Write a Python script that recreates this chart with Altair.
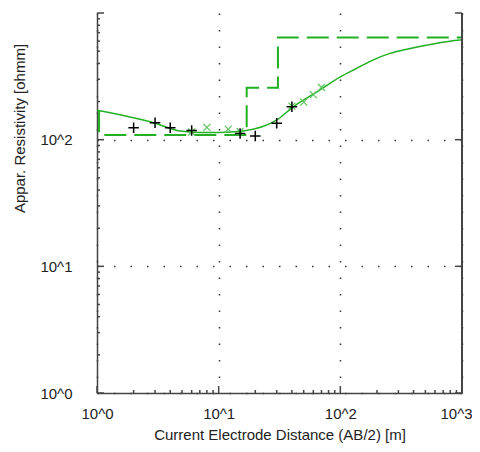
import altair as alt
import pandas as pd

# Model response curve (solid green)
curve_ab2 = [1.0, 3.0, 4.8, 7.0, 10.2, 15.8, 30.1, 40.8, 64.2, 99.3, 136, 185, 256, 352, 577, 961, 1000]
curve_rho = [171, 135, 117, 114, 114, 117, 143, 181, 238, 312, 365, 425, 480, 518, 570, 611, 613]

# Layered model (dashed green step line)
model_depth = [1.04, 1.04, 17.0, 17.0, 30.7, 30.7, 1000]
model_rho = [171, 109, 109, 257, 257, 642, 642]

# Observed data (black +)
obs_ab2 = [2, 3, 4, 6, 15, 20, 30, 40]
obs_rho = [124, 136, 124, 118, 112, 107, 134.5, 182]

# Calculated points (green x)
calc_ab2 = [6, 8, 12, 15, 40, 50, 60, 70]
calc_rho = [115, 125, 121, 116, 184, 198, 227, 258]

# Tick values
major_ticks = [1, 10, 100, 1000]
minor_ticks = [2, 3, 4, 5, 6, 7, 8, 9, 20, 30, 40, 50, 60, 70, 80, 90,
               200, 300, 400, 500, 600, 700, 800, 900]

W, H = 365, 380
GREEN = "#22b022"
LIGHTGREEN = "#5cc45c"
AX = "#444444"
FONT = "Liberation Sans"
FS = 15

label_expr = "'10^' + round(log(datum.value)/LN10)"
xscale = alt.Scale(type="log", domain=[1, 1000], nice=False)
yscale = alt.Scale(type="log", domain=[1, 1000], nice=False)

xaxis = alt.Axis(values=[1, 10, 100, 1000], labelExpr=label_expr, ticks=False,
                 grid=True, gridDash=[1.5, 15], gridColor="#333", gridWidth=1.5,
                 domainColor=AX, domainWidth=1.5, labelPadding=13, labelFontSize=FS,
                 labelFont=FONT, labelColor="#222", labelFlush=False,
                 labelOffset={"condition": {"test": "datum.value >= 1000", "value": -6}, "value": 0},
                 title="Current Electrode Distance (AB/2) [m]", titleFont=FONT,
                 titleFontSize=FS, titleFontWeight="normal", titleColor="#222",
                 titlePadding=6)
yaxis = alt.Axis(values=[1, 10, 100], labelExpr=label_expr, ticks=False,
                 grid=True, gridDash=[1.5, 15], gridColor="#333", gridWidth=1.5,
                 domainColor=AX, domainWidth=1.5, labelPadding=25, labelFontSize=FS,
                 labelFont=FONT, labelColor="#222", labelFlush=False,
                 title="Appar. Resistivity [ohmm]", titleFont=FONT,
                 titleFontSize=FS, titleFontWeight="normal", titleColor="#222",
                 titleX=-78, titleY=115, titleAngle=270, titleAlign="center",
                 titleBaseline="middle")

X = alt.X("x:Q", scale=xscale, axis=xaxis)
Y = alt.Y("y:Q", scale=yscale, axis=yaxis)

df_curve = pd.DataFrame({"x": curve_ab2, "y": curve_rho, "i": range(len(curve_ab2))})
df_model = pd.DataFrame({"x": model_depth, "y": model_rho, "i": range(len(model_depth))})
df_obs = pd.DataFrame({"x": obs_ab2, "y": obs_rho})
df_calc = pd.DataFrame({"x": calc_ab2, "y": calc_rho})
df_ymaj = pd.DataFrame({"y": major_ticks})
df_ymin = pd.DataFrame({"y": minor_ticks})
df_xmaj = pd.DataFrame({"x": major_ticks})
df_xmin = pd.DataFrame({"x": minor_ticks})

model = alt.Chart(df_model).mark_line(color=GREEN, strokeWidth=2, strokeDash=[22, 8], clip=True).encode(
    x=X, y=Y, order="i:Q")
curve = alt.Chart(df_curve).mark_line(color=GREEN, strokeWidth=1.5, clip=True,
                                      interpolate="monotone").encode(x=X, y=Y, order="i:Q")
calc = alt.Chart(df_calc).mark_point(shape="M-1,-1L1,1M1,-1L-1,1", size=49, color=LIGHTGREEN,
                                     strokeWidth=1.2, filled=False, opacity=1).encode(x=X, y=Y)
obs = alt.Chart(df_obs).mark_point(shape="M-1,0L1,0M0,-1L0,1", size=110, color="black",
                                   strokeWidth=1.5, filled=False, opacity=1).encode(x=X, y=Y)

left_min = alt.Chart(df_ymin).mark_rule(color=AX, strokeWidth=1.5).encode(
    y=Y, x=alt.value(0), x2=alt.value(3))
left_maj = alt.Chart(df_ymaj).mark_rule(color=AX, strokeWidth=1.5).encode(
    y=Y, x=alt.value(0), x2=alt.value(7))
right_maj = alt.Chart(df_ymaj).mark_rule(color=AX, strokeWidth=1.5).encode(
    y=Y, x=alt.value(W - 7), x2=alt.value(W))
bot_min = alt.Chart(df_xmin).mark_rule(color=AX, strokeWidth=1.5).encode(
    x=X, y=alt.value(H), y2=alt.value(H - 3))
bot_maj = alt.Chart(df_xmaj).mark_rule(color=AX, strokeWidth=1.5).encode(
    x=X, y=alt.value(H), y2=alt.value(H - 7))
right_border = alt.Chart(df_ymaj).mark_rule(color=AX, strokeWidth=1.5).encode(
    x=alt.value(W), y=alt.value(0), y2=alt.value(H))

chart = alt.layer(
    model, curve, calc, obs, left_min, left_maj, right_maj, bot_min, bot_maj, right_border
).properties(
    width=W, height=H,
    autosize=alt.AutoSizeParams(type="none"),
    padding={"left": 89, "top": 5, "right": 10, "bottom": 51},
).configure_view(stroke=None)

chart.save("out.html", embed_options={"renderer": "svg", "actions": False})
